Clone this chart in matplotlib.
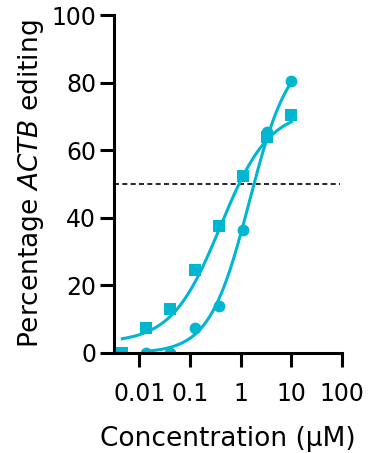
import numpy as np
import matplotlib
matplotlib.use('Agg')
import matplotlib.pyplot as plt

# ---- data --------------------------------------------------------------------
conc_sq = [0.0046, 0.0137, 0.041, 0.123, 0.37, 1.11, 3.33, 10.0]
edit_sq = [0.0, 7.5, 13.1, 24.6, 37.7, 52.3, 63.9, 70.4]
conc_ci = [0.0137, 0.041, 0.123, 0.37, 1.11, 3.33, 10.0]
edit_ci = [0.0, 0.0, 7.5, 14.0, 36.3, 65.4, 80.4]

# 4PL fit parameters: bottom, top, EC50, hill
fit_sq = [3.0, 72.0, 0.4, 0.9]
fit_ci = [0.0, 90.0, 1.5, 1.1]

xticks = [0.01, 0.1, 1, 10, 100]
xtick_labels = ['0.01', '0.1', '1', '10', '100']
yticks = [0, 20, 40, 60, 80, 100]
threshold = 50

colour = '#00b6d0'


def four_pl(x, p):
    b, t, ec50, h = p
    return b + (t - b) / (1 + (ec50 / x) ** h)


fig = plt.figure(figsize=(3.68, 4.53), dpi=100)
ax = fig.add_axes([0.31, 0.2208, 0.619, 0.746])

xs = np.logspace(np.log10(conc_sq[0]), np.log10(conc_sq[-1]), 200)
ax.plot(xs, four_pl(xs, fit_sq), color=colour, lw=2.2, zorder=2)
xc = np.logspace(np.log10(conc_ci[0]), np.log10(conc_ci[-1]), 200)
ax.plot(xc, four_pl(xc, fit_ci), color=colour, lw=2.2, zorder=2)

ax.plot(conc_sq, edit_sq, 's', color=colour, ms=8.5, mew=0, zorder=3)
ax.plot(conc_ci, edit_ci, 'o', color=colour, ms=8.5, mew=0, zorder=3)

ax.hlines(threshold, 10 ** -2.5, 90, colors='black', linestyles=(0, (3, 2)),
          lw=1.2, zorder=1)

ax.set_xscale('log')
ax.set_xlim(10 ** -2.5, 100)
ax.set_ylim(0, 100)
ax.set_xticks(xticks)
ax.set_xticklabels(xtick_labels)
ax.minorticks_off()
ax.set_yticks(yticks)

for side in ['top', 'right']:
    ax.spines[side].set_visible(False)
for side in ['left', 'bottom']:
    ax.spines[side].set_linewidth(2.2)
    ax.spines[side].set_zorder(4)
ax.tick_params(width=2.2, length=10, labelsize=17, pad=3, color='black')
ax.tick_params(axis='x', pad=11)

ax.set_ylabel('Percentage $\\it{ACTB}$ editing', fontsize=19, labelpad=4)
ax.set_xlabel('Concentration (\u03bcM)', fontsize=19, labelpad=14)

fig.savefig('out.png', dpi=100)
